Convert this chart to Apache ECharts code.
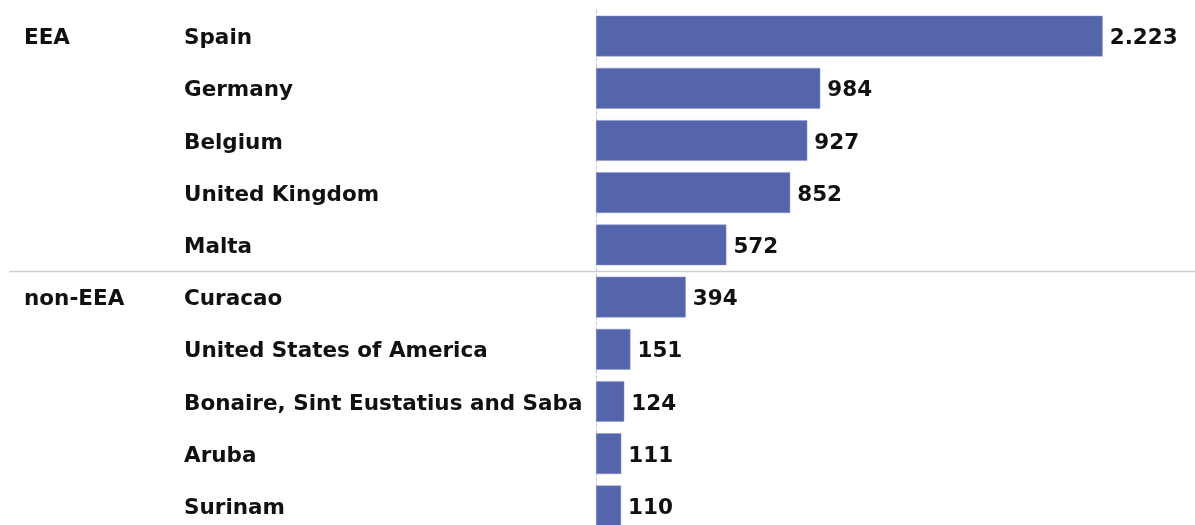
<!DOCTYPE html>
<html><head><meta charset="utf-8">
<script src="https://cdn.jsdelivr.net/npm/echarts@6/dist/echarts.min.js"></script>
<style>html,body{margin:0;padding:0;background:#fff}#c{width:1195px;height:525px}</style>
</head><body><div id="c"></div>
<script>
const countries = ['Spain','Germany','Belgium','United Kingdom','Malta','Curacao','United States of America','Bonaire, Sint Eustatius and Saba','Aruba','Surinam'];
const values = [2223, 984, 927, 852, 572, 394, 151, 124, 111, 110];
const groups = ['EEA','','','','','non-EEA','','','',''];

const FONT = '"Century Gothic", "URW Gothic", "DejaVu Sans", sans-serif';
const FS = 21.5;
const chart = echarts.init(document.getElementById('c'), null, {renderer:'canvas'});
const fmt = v => String(v).replace(/\B(?=(\d{3})+(?!\d))/g, '.');
const txt = {color:'#111', fontSize:FS, fontWeight:'bold', fontFamily:FONT, padding:[5,0,0,0]};
chart.setOption({
  animation:false,
  grid:{left:596, top:10, right:0, height:522, outerBoundsMode:'none', containLabel:false},
  xAxis:{type:'value', min:0, max:2628, show:false},
  yAxis:[{
    type:'category', data:countries, inverse:true,
    axisLine:{show:true, lineStyle:{color:'#c8c8c8', type:[3,3], width:1}},
    axisTick:{show:false},
    axisLabel:{align:'left', margin:412, interval:0, formatter:v=>'{t|'+v+'}', rich:{t:txt}}
  },{
    type:'category', data:countries, inverse:true, position:'left',
    axisLine:{show:false}, axisTick:{show:false},
    axisLabel:{align:'left', margin:572, interval:0, formatter:(v,i)=>groups[i]?'{t|'+groups[i]+'}':'', rich:{t:txt}}
  }],
  series:[{
    type:'bar', data:values, barCategoryGap:'22%',
    itemStyle:{color:'#5465ab', borderColor:'#8a97cc', borderWidth:0.5},
    label:{show:true, position:'right', distance:7, formatter:p=>'{t|'+fmt(p.value)+'}', rich:{t:txt}}
  }]
});
// separator between groups, placed via axis scale
const boundary = groups.findIndex((g,i)=>i>0 && g!=='');
const y1 = chart.convertToPixel({yAxisIndex:0}, countries[boundary-1]);
const y2 = chart.convertToPixel({yAxisIndex:0}, countries[boundary]);
const ys = Math.round((y1+y2)/2)+0.5;
chart.setOption({graphic:[{type:'line', shape:{x1:9, y1:ys, x2:1195, y2:ys}, style:{stroke:'#cfcfcf', lineWidth:1.5}, z:-1}]});
</script></body></html>
